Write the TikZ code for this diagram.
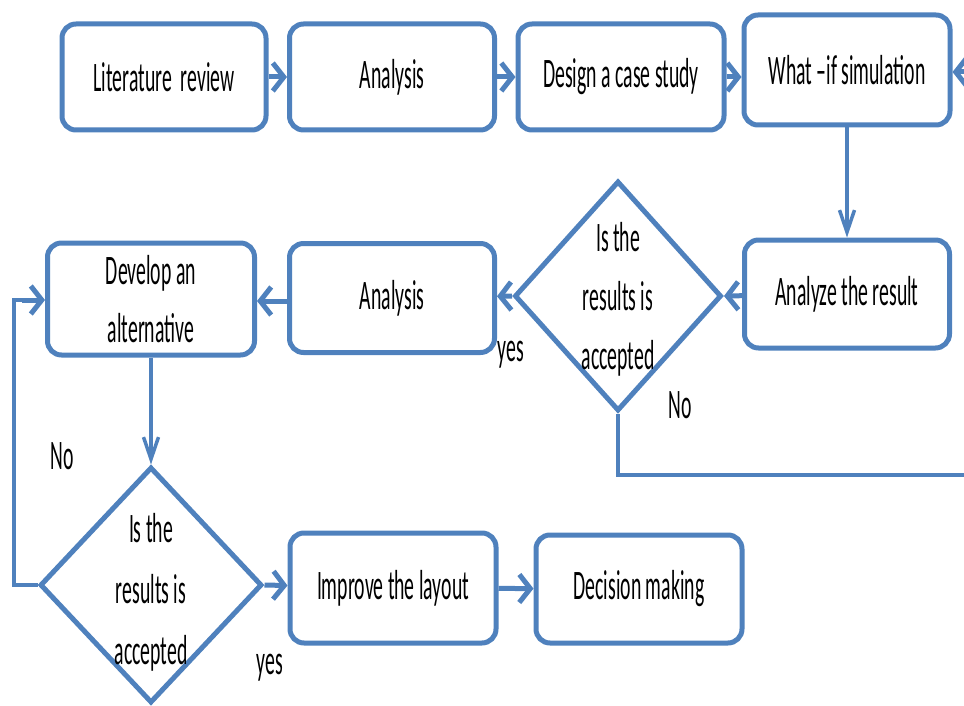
\documentclass[tikz,border=0pt]{standalone}
\usepackage{fontspec}
\setmainfont{Carlito}[FakeStretch=0.47]
\usetikzlibrary{arrows.meta,shapes.geometric}
\definecolor{fblue}{HTML}{4F81BD}
\tikzset{
  box/.style={draw=fblue, line width=5pt, rounded corners=14pt, fill=white,
    inner sep=0pt, align=center, font=\fontsize{42}{58}\selectfont},
  dia/.style={draw=fblue, line width=5pt, shape=diamond, inner sep=0pt, fill=white},
  dtext/.style={align=center, font=\fontsize{42}{59}\selectfont, inner sep=0pt},
  lbl/.style={font=\fontsize{42}{46}\selectfont, inner sep=0pt},
  harr/.style={draw=fblue, line width=5pt, -{Straight Barb[length=11pt,width=28pt]}},
  varr/.style={draw=fblue, line width=3.5pt, -{Straight Barb[length=22pt,width=15pt]}},
  loopline/.style={draw=fblue, line width=4.5pt},
}
\begin{document}
\begin{tikzpicture}[x=1pt,y=-1pt]
\useasboundingbox (0,0) rectangle (964,706);
% top row
\node[box, minimum width=204pt, minimum height=106pt] (lit) at (164,77) {Literature\ \ review};
\node[box, minimum width=205pt, minimum height=106pt] (ana1) at (392,77) {Analysis};
\node[box, minimum width=206pt, minimum height=106pt] (des) at (621,77) {Design a case study};
\node[box, minimum width=206pt, minimum height=110pt] (wif) at (847,70) {What –if simulation};
% middle row
\node[box, minimum width=205pt, minimum height=108pt] (anr) at (847,294) {Analyze the result};
\node[dia, minimum width=207pt, minimum height=230pt] (d1) at (618,296) {};
\node[dtext] (d1t) at (618,299) {Is the\\results is\\accepted};
\node[box, minimum width=205pt, minimum height=109pt] (ana2) at (392,298) {Analysis};
\node[box, minimum width=207pt, minimum height=112pt] (dev) at (151,299) {Develop an\\alternative};
% bottom row
\node[dia, minimum width=222pt, minimum height=236pt] (d2) at (151,585) {};
\node[dtext, font=\fontsize{42}{61}\selectfont] (d2t) at (151,592) {Is the\\results is\\accepted};
\node[box, minimum width=206pt, minimum height=110pt] (imp) at (393,588) {Improve the layout};
\node[box, minimum width=206pt, minimum height=108pt] (dec) at (639,589) {Decision making};
% labels
\node[lbl] (yes1) at (511,355) {yes};
\node[lbl] (no1) at (680,405) {No};
\node[lbl] (no2) at (62,456) {No};
\node[lbl] (yes2) at (270,668) {yes};
% free ends
\coordinate (rin) at (966,72);
\coordinate (rout) at (966,475);
% connectors
\draw[harr] (lit) -- (ana1);
\draw[harr] (ana1) -- (des);
\draw[harr] (des) -- (wif.west |- des);
\draw[harr] (rin) -- (rin -| wif.east);
\draw[varr] (wif) -- (anr);
\draw[harr] (anr) -- (d1.east);
\draw[harr] (d1.west) -- (ana2);
\draw[harr] (ana2.west |- 0,301) -- (dev.east |- 0,301);
\draw[varr] (dev.south) -- (dev.south |- d2.north);
\draw[loopline] (d1.south) |- (rout);
\draw[loopline] (d2.west) -- (14,585) -- (14,300) -- (22,300);
\draw[harr] (22,300) -- (dev.west |- 0,300);
\draw[harr] (d2.east) -- (imp);
\draw[harr] (imp) -- (dec);
\end{tikzpicture}
\end{document}
